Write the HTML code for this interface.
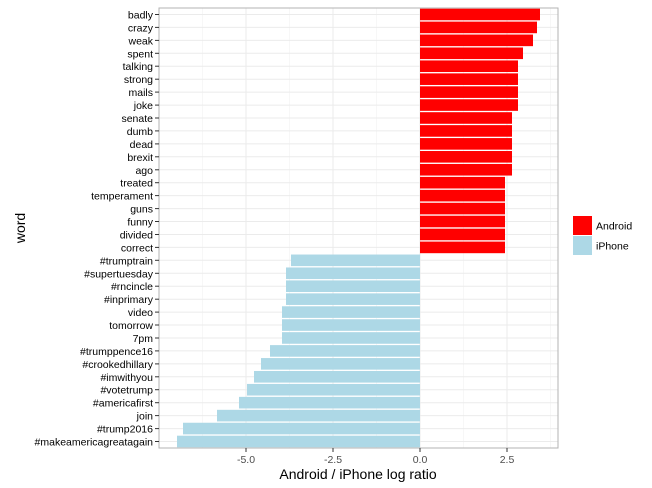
<!DOCTYPE html>
<html><head><meta charset="utf-8"><style>
html,body{margin:0;padding:0;background:#fff;}
svg{display:block;font-family:"Liberation Sans",sans-serif;}
</style></head><body>
<svg width="652" height="488" viewBox="0 0 652 488" xmlns="http://www.w3.org/2000/svg">
<rect x="159" y="8" width="399" height="440" fill="#fff"/>
<g stroke="#f2f2f2" stroke-width="0.6">
<line x1="202.5" y1="8" x2="202.5" y2="448"/><line x1="289.5" y1="8" x2="289.5" y2="448"/><line x1="376.5" y1="8" x2="376.5" y2="448"/><line x1="463.5" y1="8" x2="463.5" y2="448"/><line x1="550.5" y1="8" x2="550.5" y2="448"/>
</g>
<g stroke="#ebebeb" stroke-width="1">
<line x1="246" y1="8" x2="246" y2="448"/><line x1="333" y1="8" x2="333" y2="448"/><line x1="420" y1="8" x2="420" y2="448"/><line x1="507" y1="8" x2="507" y2="448"/>
</g>
<g stroke="#ebebeb" stroke-width="1" id="h">
<line x1="159" x2="558" y1="14.5" y2="14.5"/><line x1="159" x2="558" y1="27.4" y2="27.4"/><line x1="159" x2="558" y1="40.4" y2="40.4"/><line x1="159" x2="558" y1="53.3" y2="53.3"/><line x1="159" x2="558" y1="66.2" y2="66.2"/><line x1="159" x2="558" y1="79.2" y2="79.2"/><line x1="159" x2="558" y1="92.1" y2="92.1"/><line x1="159" x2="558" y1="105.1" y2="105.1"/><line x1="159" x2="558" y1="118" y2="118"/><line x1="159" x2="558" y1="130.9" y2="130.9"/><line x1="159" x2="558" y1="143.9" y2="143.9"/><line x1="159" x2="558" y1="156.8" y2="156.8"/><line x1="159" x2="558" y1="169.8" y2="169.8"/><line x1="159" x2="558" y1="182.7" y2="182.7"/><line x1="159" x2="558" y1="195.6" y2="195.6"/><line x1="159" x2="558" y1="208.6" y2="208.6"/><line x1="159" x2="558" y1="221.5" y2="221.5"/><line x1="159" x2="558" y1="234.5" y2="234.5"/><line x1="159" x2="558" y1="247.4" y2="247.4"/><line x1="159" x2="558" y1="260.3" y2="260.3"/><line x1="159" x2="558" y1="273.3" y2="273.3"/><line x1="159" x2="558" y1="286.2" y2="286.2"/><line x1="159" x2="558" y1="299.2" y2="299.2"/><line x1="159" x2="558" y1="312.1" y2="312.1"/><line x1="159" x2="558" y1="325" y2="325"/><line x1="159" x2="558" y1="338" y2="338"/><line x1="159" x2="558" y1="350.9" y2="350.9"/><line x1="159" x2="558" y1="363.9" y2="363.9"/><line x1="159" x2="558" y1="376.8" y2="376.8"/><line x1="159" x2="558" y1="389.7" y2="389.7"/><line x1="159" x2="558" y1="402.7" y2="402.7"/><line x1="159" x2="558" y1="415.6" y2="415.6"/><line x1="159" x2="558" y1="428.6" y2="428.6"/><line x1="159" x2="558" y1="441.5" y2="441.5"/>
</g>
<g fill="#ff0000">
<rect x="420" y="8.67" width="120" height="11.6"/>
<rect x="420" y="21.61" width="117" height="11.6"/>
<rect x="420" y="34.55" width="113" height="11.6"/>
<rect x="420" y="47.49" width="103" height="11.6"/>
<rect x="420" y="60.43" width="98" height="11.6"/>
<rect x="420" y="73.37" width="98" height="11.6"/>
<rect x="420" y="86.31" width="98" height="11.6"/>
<rect x="420" y="99.25" width="98" height="11.6"/>
<rect x="420" y="112.19" width="92" height="11.6"/>
<rect x="420" y="125.13" width="92" height="11.6"/>
<rect x="420" y="138.07" width="92" height="11.6"/>
<rect x="420" y="151.01" width="92" height="11.6"/>
<rect x="420" y="163.95" width="92" height="11.6"/>
<rect x="420" y="176.89" width="85" height="11.6"/>
<rect x="420" y="189.83" width="85" height="11.6"/>
<rect x="420" y="202.77" width="85" height="11.6"/>
<rect x="420" y="215.71" width="85" height="11.6"/>
<rect x="420" y="228.65" width="85" height="11.6"/>
<rect x="420" y="241.59" width="85" height="11.6"/>
</g>
<g fill="#add8e6">
<rect x="291" y="254.53" width="129" height="11.6"/>
<rect x="286" y="267.47" width="134" height="11.6"/>
<rect x="286" y="280.41" width="134" height="11.6"/>
<rect x="286" y="293.35" width="134" height="11.6"/>
<rect x="282" y="306.29" width="138" height="11.6"/>
<rect x="282" y="319.23" width="138" height="11.6"/>
<rect x="282" y="332.17" width="138" height="11.6"/>
<rect x="270" y="345.11" width="150" height="11.6"/>
<rect x="261" y="358.05" width="159" height="11.6"/>
<rect x="254" y="370.99" width="166" height="11.6"/>
<rect x="247" y="383.93" width="173" height="11.6"/>
<rect x="239" y="396.87" width="181" height="11.6"/>
<rect x="217" y="409.81" width="203" height="11.6"/>
<rect x="183" y="422.75" width="237" height="11.6"/>
<rect x="177" y="435.69" width="243" height="11.6"/>
</g>
<rect x="159" y="8" width="399" height="440" fill="none" stroke="#b3b3b3" stroke-width="1"/>
<g stroke="#333" stroke-width="1">
<line x1="155" x2="159" y1="14.5" y2="14.5"/><line x1="155" x2="159" y1="27.4" y2="27.4"/><line x1="155" x2="159" y1="40.4" y2="40.4"/><line x1="155" x2="159" y1="53.3" y2="53.3"/><line x1="155" x2="159" y1="66.2" y2="66.2"/><line x1="155" x2="159" y1="79.2" y2="79.2"/><line x1="155" x2="159" y1="92.1" y2="92.1"/><line x1="155" x2="159" y1="105.1" y2="105.1"/><line x1="155" x2="159" y1="118" y2="118"/><line x1="155" x2="159" y1="130.9" y2="130.9"/><line x1="155" x2="159" y1="143.9" y2="143.9"/><line x1="155" x2="159" y1="156.8" y2="156.8"/><line x1="155" x2="159" y1="169.8" y2="169.8"/><line x1="155" x2="159" y1="182.7" y2="182.7"/><line x1="155" x2="159" y1="195.6" y2="195.6"/><line x1="155" x2="159" y1="208.6" y2="208.6"/><line x1="155" x2="159" y1="221.5" y2="221.5"/><line x1="155" x2="159" y1="234.5" y2="234.5"/><line x1="155" x2="159" y1="247.4" y2="247.4"/><line x1="155" x2="159" y1="260.3" y2="260.3"/><line x1="155" x2="159" y1="273.3" y2="273.3"/><line x1="155" x2="159" y1="286.2" y2="286.2"/><line x1="155" x2="159" y1="299.2" y2="299.2"/><line x1="155" x2="159" y1="312.1" y2="312.1"/><line x1="155" x2="159" y1="325" y2="325"/><line x1="155" x2="159" y1="338" y2="338"/><line x1="155" x2="159" y1="350.9" y2="350.9"/><line x1="155" x2="159" y1="363.9" y2="363.9"/><line x1="155" x2="159" y1="376.8" y2="376.8"/><line x1="155" x2="159" y1="389.7" y2="389.7"/><line x1="155" x2="159" y1="402.7" y2="402.7"/><line x1="155" x2="159" y1="415.6" y2="415.6"/><line x1="155" x2="159" y1="428.6" y2="428.6"/><line x1="155" x2="159" y1="441.5" y2="441.5"/>
<line x1="246" x2="246" y1="448" y2="452"/><line x1="333" x2="333" y1="448" y2="452"/><line x1="420" x2="420" y1="448" y2="452"/><line x1="507" x2="507" y1="448" y2="452"/>
</g>
<g font-size="10.5" fill="#000" text-anchor="end">
<text x="153" y="18.5">badly</text><text x="153" y="31.4">crazy</text><text x="153" y="44.4">weak</text><text x="153" y="57.3">spent</text><text x="153" y="70.2">talking</text><text x="153" y="83.2">strong</text><text x="153" y="96.1">mails</text><text x="153" y="109.1">joke</text><text x="153" y="122">senate</text><text x="153" y="134.9">dumb</text><text x="153" y="147.9">dead</text><text x="153" y="160.8">brexit</text><text x="153" y="173.8">ago</text><text x="153" y="186.7">treated</text><text x="153" y="199.6">temperament</text><text x="153" y="212.6">guns</text><text x="153" y="225.5">funny</text><text x="153" y="238.5">divided</text><text x="153" y="251.4">correct</text><text x="153" y="264.3">#trumptrain</text><text x="153" y="277.3">#supertuesday</text><text x="153" y="290.2">#rncincle</text><text x="153" y="303.2">#inprimary</text><text x="153" y="316.1">video</text><text x="153" y="329">tomorrow</text><text x="153" y="342">7pm</text><text x="153" y="354.9">#trumppence16</text><text x="153" y="367.9">#crookedhillary</text><text x="153" y="380.8">#imwithyou</text><text x="153" y="393.7">#votetrump</text><text x="153" y="406.7">#americafirst</text><text x="153" y="419.6">join</text><text x="153" y="432.6">#trump2016</text><text x="153" y="445.5">#makeamericagreatagain</text>
</g>
<g font-size="10.5" fill="#4d4d4d" text-anchor="middle">
<text x="246" y="463">-5.0</text><text x="333" y="463">-2.5</text><text x="420" y="463">0.0</text><text x="507" y="463">2.5</text>
</g>
<text x="358" y="479" font-size="14" text-anchor="middle">Android / iPhone log ratio</text>
<text transform="translate(25,228) rotate(-90)" font-size="14" text-anchor="middle">word</text>
<rect x="573" y="216" width="19" height="19" fill="#ff0000"/>
<rect x="573" y="236" width="19" height="19" fill="#add8e6"/>
<text x="596" y="229.5" font-size="10.5">Android</text>
<text x="596" y="249.5" font-size="10.5">iPhone</text>
</svg>
</body></html>
